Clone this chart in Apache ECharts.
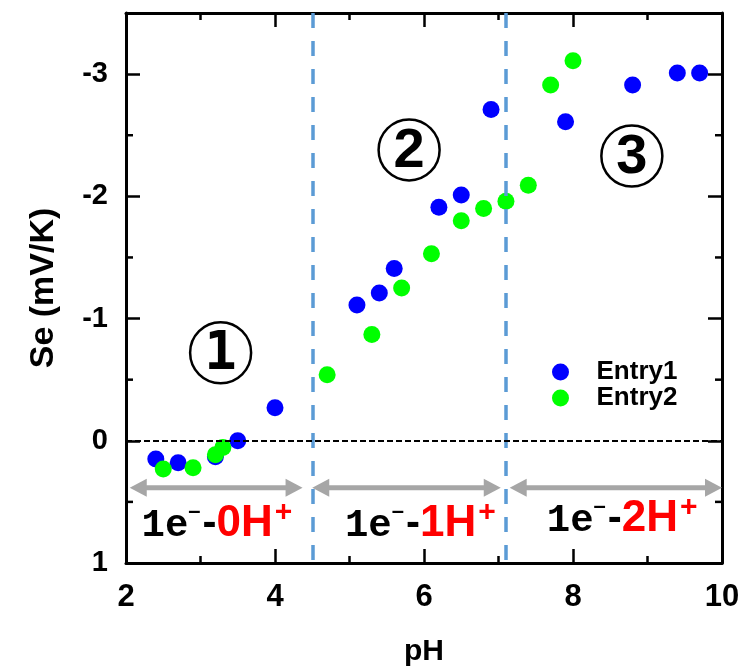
<!DOCTYPE html>
<html>
<head>
<meta charset="utf-8">
<script src="https://cdn.jsdelivr.net/npm/echarts@6/dist/echarts.min.js"></script>
<style>html,body{margin:0;padding:0;background:#fff}#c{width:742px;height:666px}</style>
</head>
<body>
<div id="c"></div>
<script>
// ---- data ----
var entry1 = [[2.4,0.15],[2.7,0.18],[3.2,0.13],[3.5,0.0],[4.0,-0.27],[5.1,-1.11],[5.4,-1.21],[5.6,-1.41],[6.2,-1.91],[6.5,-2.01],[6.9,-2.71],[7.9,-2.61],[8.8,-2.91],[9.4,-3.01],[9.7,-3.01]];
var entry2 = [[2.5,0.23],[2.9,0.22],[3.2,0.115],[3.3,0.055],[4.7,-0.54],[5.3,-0.87],[5.7,-1.25],[6.1,-1.53],[6.5,-1.80],[6.8,-1.90],[7.1,-1.96],[7.4,-2.09],[7.7,-2.91],[8.0,-3.11]];
var regionBounds = [4.5, 7.1];
var arrows = [[2.05,4.37,0.385],[4.5,7.03,0.385],[7.15,10.0,0.385]];
var regionLabels = [[3.22,0.66,'0'],[5.95,0.66,'1'],[8.66,0.62,'2']];
var circleMarks = [[3.27,-0.72,'1'],[5.80,-2.38,'2'],[8.79,-2.33,'3']];
var yMajor = [-3,-2,-1,0,1];
var yMinor = [-2.5,-1.5,-0.5,0.5];

var chart = echarts.init(document.getElementById('c'));
var F = '"Liberation Sans", Arial, sans-serif';
var axisLine = {show:true, onZero:false, lineStyle:{color:'#000', width:3}};

function xAx(pos, labels){
  return {type:'value', position:pos, min:2, max:10, interval:2,
    axisLine:axisLine,
    axisTick:{show:true, inside:true, length:14, lineStyle:{color:'#000', width:2.5}},
    minorTick:{show:true, splitNumber:2, length:7, lineStyle:{color:'#000', width:2.5}},
    splitLine:{show:false}, minorSplitLine:{show:false},
    axisLabel:{show:labels, fontFamily:F, fontWeight:'bold', fontSize:31, color:'#000', margin:19},
    name: labels ? 'pH' : '', nameLocation:'middle', nameGap:74,
    nameTextStyle:{fontFamily:F, fontWeight:'bold', fontSize:30, color:'#000'}
  };
}
function yAx(pos, labels){
  return {type:'value', position:pos, inverse:true, min:-3.5, max:1,
    axisLine:axisLine,
    axisTick:{show:true, inside:true, length:14, customValues:yMajor, lineStyle:{color:'#000', width:2.5}},
    splitLine:{show:false},
    axisLabel:{show:labels, customValues:yMajor, fontFamily:F, fontWeight:'bold', fontSize:29, color:'#000', margin:18},
    name: labels ? 'Se (mV/K)' : '', nameLocation:'middle', nameGap:65,
    nameTextStyle:{fontFamily:F, fontWeight:'bold', fontSize:34, color:'#000'}
  };
}

var richLabel = {
  a:{fontFamily:'"Liberation Mono", monospace', fontWeight:'bold', fontSize:39, color:'#000', verticalAlign:'bottom'},
  s:{fontFamily:F, fontWeight:'bold', fontSize:22, color:'#000', padding:[0,2,23,0], verticalAlign:'bottom'},
  d:{fontFamily:F, fontWeight:'bold', fontSize:42, color:'#000', verticalAlign:'bottom'},
  r:{fontFamily:F, fontWeight:'bold', fontSize:44, color:'#ff0000', verticalAlign:'bottom'},
  rs:{fontFamily:F, fontWeight:'bold', fontSize:30, color:'#ff0000', padding:[0,0,18,2], verticalAlign:'bottom'}
};

chart.setOption({
  animation:false,
  backgroundColor:'#fff',
  grid:{left:126, right:20, top:13, bottom:103, outerBoundsMode:'none', containLabel:false},
  legend:{orient:'vertical', left:547, top:354, data:['Entry1','Entry2'], icon:'circle',
    itemWidth:62, itemHeight:17, itemGap:0,
    textStyle:{fontFamily:F, fontWeight:'bold', fontSize:26, color:'#000', lineHeight:26}},
  xAxis:[xAx('bottom', true), xAx('top', false)],
  yAxis:[yAx('left', true), yAx('right', false)],
  series:[
    {type:'scatter', name:'guides', data:[], z:1, silent:true,
      markLine:{silent:true, symbol:'none', label:{show:false}, animation:false,
        data:[
          {xAxis:regionBounds[0], lineStyle:{color:'#5b9bd5', width:3.5, type:[15,13]}},
          {xAxis:regionBounds[1], lineStyle:{color:'#5b9bd5', width:3.5, type:[15,13]}},
          {yAxis:0, lineStyle:{color:'#000', width:2, type:[6,3]}}
        ]}},
    {type:'custom', name:'yMinorTicks', silent:true, z:2,
      data:yMinor.map(function(v){return [2, v];}), encode:{x:0, y:1},
      renderItem:function(params, api){
        var cs = params.coordSys;
        var p = api.coord([api.value(0), api.value(1)]);
        var st = {stroke:'#000', lineWidth:2.5};
        return {type:'group', children:[
          {type:'line', shape:{x1:cs.x, y1:p[1], x2:cs.x+7, y2:p[1]}, style:st},
          {type:'line', shape:{x1:cs.x+cs.width-7, y1:p[1], x2:cs.x+cs.width, y2:p[1]}, style:st}
        ]};
      }},
    {type:'custom', name:'arrows', data:arrows, z:2, silent:true,
      encode:{x:[0,1], y:2},
      renderItem:function(params, api){
        var p1 = api.coord([api.value(0), api.value(2)]);
        var p2 = api.coord([api.value(1), api.value(2)]);
        var hl = 17, hw = 9, t = 5, c = '#a6a6a6';
        return {type:'group', children:[
          {type:'rect', shape:{x:p1[0]+hl-1, y:p1[1]-t/2, width:p2[0]-p1[0]-2*hl+2, height:t}, style:{fill:c}},
          {type:'polygon', shape:{points:[[p1[0],p1[1]],[p1[0]+hl,p1[1]-hw],[p1[0]+hl,p1[1]+hw]]}, style:{fill:c}},
          {type:'polygon', shape:{points:[[p2[0],p2[1]],[p2[0]-hl,p2[1]-hw],[p2[0]-hl,p2[1]+hw]]}, style:{fill:c}}
        ]};
      }},
    {type:'scatter', name:'Entry1', data:entry1, symbolSize:17, z:3, itemStyle:{color:'#0000ff', opacity:1}},
    {type:'scatter', name:'Entry2', data:entry2, symbolSize:17, z:4, itemStyle:{color:'#00ff00', opacity:1}},
    {type:'scatter', name:'regions', silent:true, z:5, symbolSize:1, itemStyle:{color:'rgba(0,0,0,0)', opacity:1},
      data:regionLabels.map(function(d){return {value:[d[0],d[1]], name:d[2]};}),
      label:{show:true, position:'inside', opacity:1, rich:richLabel,
        formatter:function(p){return '{a|1e}{s|\u2013}{d|-}{r|'+p.name+'H}{rs|+}';}}},
    {type:'scatter', name:'circles', silent:true, z:5, symbol:'circle', symbolSize:61,
      itemStyle:{color:'rgba(255,255,255,0)', borderColor:'#000', borderWidth:2.5, opacity:1},
      data:circleMarks.map(function(d){return {value:[d[0],d[1]], name:d[2],
        label:{fontFamily: d[2]==='1' ? '"DejaVu Sans Mono", monospace' : F, fontSize: d[2]==='1' ? 54 : 56}};}),
      label:{show:true, position:'inside', opacity:1, fontWeight:'bold', color:'#000', offset:[0,2],
        formatter:function(p){return p.name;}}}
  ]
});
</script>
</body>
</html>
